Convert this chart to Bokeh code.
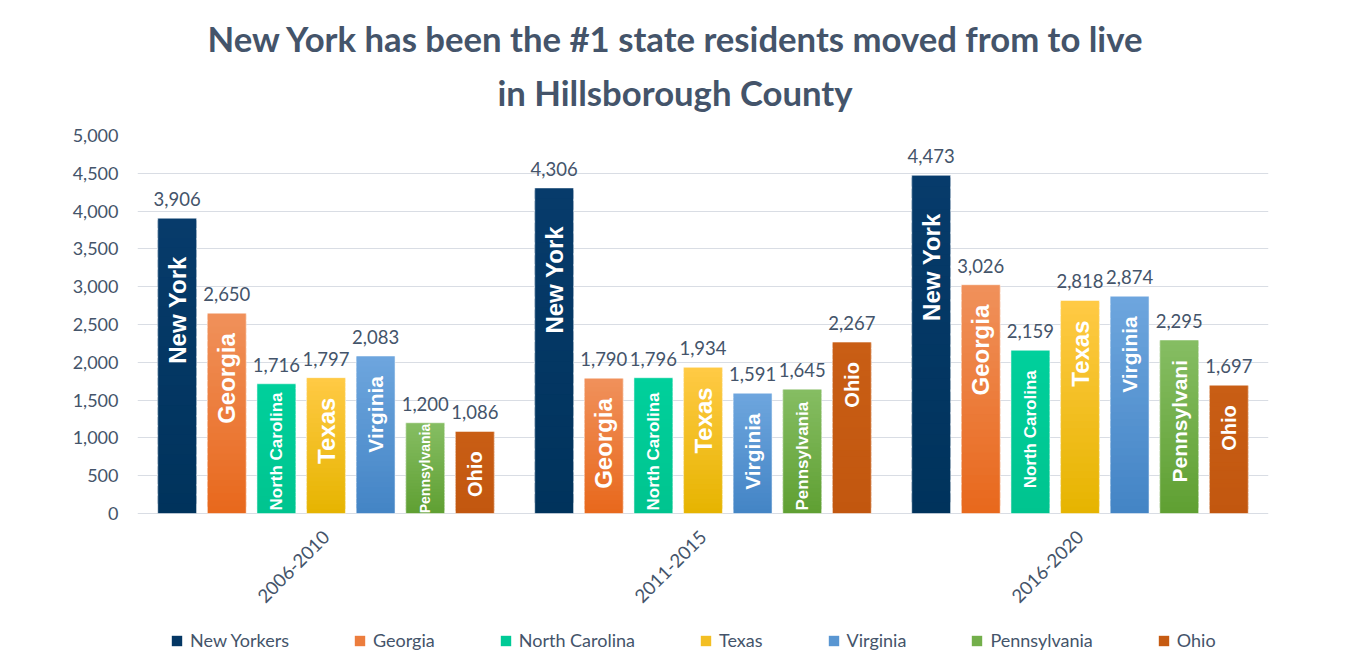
from math import pi
from bokeh.plotting import figure
from bokeh.models import (ColumnDataSource, FactorRange, Range1d, Legend, LegendItem,
                          FixedTicker, NumeralTickFormatter, Title)
from bokeh.core.properties import value
from bokeh.transform import dodge
from bokeh.embed import file_html
from bokeh.resources import INLINE

# ---------------- data ----------------
periods = ["2006-2010", "2011-2015", "2016-2020"]
states = ["New Yorkers", "Georgia", "North Carolina", "Texas", "Virginia", "Pennsylvania", "Ohio"]
new_york = [3906, 4306, 4473]
georgia = [2650, 1790, 3026]
north_carolina = [1716, 1796, 2159]
texas = [1797, 1934, 2818]
virginia = [2083, 1591, 2874]
pennsylvania = [1200, 1645, 2295]
ohio = [1086, 2267, 1697]
inner_labels = {
    "New Yorkers": ["New York", "New York", "New York"],
    "Georgia": ["Georgia", "Georgia", "Georgia"],
    "North Carolina": ["North Carolina", "North Carolina", "North Carolina"],
    "Texas": ["Texas", "Texas", "Texas"],
    "Virginia": ["Virginia", "Virginia", "Virginia"],
    "Pennsylvania": ["Pennsylvania", "Pennsylvania", "Pennsylvani"],
    "Ohio": ["Ohio", "Ohio", "Ohio"],
}
series = [new_york, georgia, north_carolina, texas, virginia, pennsylvania, ohio]
y_ticks = [0, 500, 1000, 1500, 2000, 2500, 3000, 3500, 4000, 4500, 5000]
title_line1 = "New York has been the #1 state residents moved from to live"
title_line2 = "in Hillsborough County"

# ---------------- style ----------------
grad = {  # (top colour, bottom colour)
    "New Yorkers": ("#073B6B", "#00335C"),
    "Georgia": ("#F0915B", "#E8681C"),
    "North Carolina": ("#00D09C", "#00C48F"),
    "Texas": ("#FFCA45", "#E6B400"),
    "Virginia": ("#6EA6DE", "#4384C5"),
    "Pennsylvania": ("#86BD63", "#5FA032"),
    "Ohio": ("#C95E15", "#C2570F"),
}
label_fs = {
    "New Yorkers": [24, 24, 24], "Georgia": [24, 24, 24], "North Carolina": [17, 17, 17],
    "Texas": [24, 24, 24], "Virginia": [21, 21, 21], "Pennsylvania": [14, 17, 21],
    "Ohio": [20, 20, 20],
}
label_off = {"New Yorkers": 38}
TXT = "#44546A"
FONT = "Lato"
FRAME_W = 1131
BAR_H = 378          # pixels from 0 to 5000
EXTRA_H = 147        # room under the zero line for period labels and legend
YMAX = 5000
ppu = BAR_H / YMAX
YMIN = -EXTRA_H / ppu

arial_bold = {" ": 278, "C": 722, "G": 778, "N": 722, "O": 778, "P": 667, "T": 611, "V": 667,
              "Y": 667, "a": 556, "e": 556, "g": 611, "h": 611, "i": 278, "k": 556, "l": 278,
              "n": 611, "o": 611, "r": 389, "s": 556, "t": 333, "v": 556, "w": 778, "x": 556,
              "y": 556}


def text_len(s, fs):
    return sum(arial_bold.get(c, 556) for c in s) * fs / 1000.0


def hex2rgb(h):
    return tuple(int(h[i:i + 2], 16) for i in (1, 3, 5))


def mix(c1, c2, t):
    a, b = hex2rgb(c1), hex2rgb(c2)
    return "#%02x%02x%02x" % tuple(round(a[i] + (b[i] - a[i]) * t) for i in range(3))


p = figure(x_range=FactorRange(factors=periods, range_padding=0),
           y_range=Range1d(YMIN, YMAX),
           frame_width=FRAME_W, frame_height=BAR_H + EXTRA_H,
           min_border_left=137, min_border_right=75, min_border_top=135, min_border_bottom=2,
           output_backend="svg", toolbar_location=None)

n = len(states)
step = 0.1316
bw = 0.103
NSTRIP = 30
legend_items = []
for i, (name, vals) in enumerate(zip(states, series)):
    off = (i - (n - 1) / 2) * step
    top_c, bot_c = grad[name]
    xs, bots, tops, cols = [], [], [], []
    for per, v in zip(periods, vals):
        for k in range(NSTRIP):
            xs.append(per)
            bots.append(v * k / NSTRIP)
            tops.append(min(v, v * (k + 1.8) / NSTRIP))
            cols.append(mix(bot_c, top_c, (k + 0.5) / NSTRIP))
    src = ColumnDataSource(dict(x=xs, bottom=bots, top=tops, color=cols))
    r = p.vbar(x=dodge("x", off, range=p.x_range), bottom="bottom", top="top", width=bw,
               fill_color="color", line_color=None, source=src)
    legend_items.append(LegendItem(label=name, renderers=[r], index=NSTRIP // 2))
    osrc = ColumnDataSource(dict(x=periods, top=vals))
    p.vbar(x=dodge("x", off, range=p.x_range), top="top", width=bw, fill_alpha=0,
           line_color="white", line_alpha=0.5, line_width=1, source=osrc)

    # value labels above bars
    vsrc = ColumnDataSource(dict(x=periods, y=vals, t=[f"{v:,}" for v in vals]))
    p.text(x=dodge("x", off, range=p.x_range), y="y", text="t", source=vsrc,
           text_align="center", text_baseline="alphabetic", y_offset=-19,
           text_font=value(FONT), text_font_size="18.5px", text_color=TXT)

    # rotated names inside bars
    ys, yoffs, texts, sizes = [], [], [], []
    for j, v in enumerate(vals):
        s = inner_labels[name][j]
        fs = label_fs[name][j]
        L = text_len(s, fs)
        bar = v * ppu
        o = label_off.get(name, 20)
        top_px = bar - o
        if top_px - L < 3:
            top_px = min(L + 3, bar - 1)
        ys.append(0)
        yoffs.append(-top_px)
        texts.append(s)
        sizes.append(f"{fs}px")
    isrc = ColumnDataSource(dict(x=periods, y=ys, yo=yoffs, t=texts, fs=sizes))
    p.text(x=dodge("x", off, range=p.x_range), y="y", text="t", y_offset="yo", source=isrc,
           angle=pi / 2, text_align="right", text_baseline="middle",
           text_font=value("Liberation Sans"), text_font_style="bold", text_font_size="fs",
           text_color="white")

# category (period) labels, rotated, under the zero line
psrc = ColumnDataSource(dict(x=periods, y=[0] * len(periods)))
p.text(x="x", y="y", text="x", source=psrc, angle=pi / 4, y_offset=20,
       text_align="right", text_baseline="middle",
       text_font=value(FONT), text_font_size="18.5px", text_color=TXT)

# titles (added bottom line first: closest to the frame)
t2 = Title(text=title_line2, align="left", offset=360, text_font=FONT,
           text_font_style="bold", text_font_size="34.7px", text_color=TXT, standoff=46)
t1 = Title(text=title_line1, align="left", offset=70, text_font=FONT,
           text_font_style="bold", text_font_size="34.7px", text_color=TXT, standoff=-25)
p.add_layout(t2, "above")
p.add_layout(t1, "above")

# axes
p.yaxis.ticker = FixedTicker(ticks=y_ticks)
p.yaxis.formatter = NumeralTickFormatter(format="0,0")
p.yaxis.axis_line_color = None
p.yaxis.major_tick_line_color = None
p.yaxis.major_tick_out = 0
p.yaxis.minor_tick_line_color = None
p.yaxis.major_label_standoff = 19
p.yaxis.major_label_text_font = FONT
p.yaxis.major_label_text_font_size = "18px"
p.yaxis.major_label_text_color = TXT
p.xaxis.visible = False

p.xgrid.grid_line_color = None
p.ygrid.grid_line_color = "#D9DDE4"
p.ygrid.grid_line_width = 1
p.outline_line_color = None

legend = Legend(items=legend_items, orientation="horizontal", location=(33, 9),
                spacing=64, label_standoff=7, glyph_width=13, glyph_height=13,
                padding=0, margin=0, border_line_color=None, background_fill_alpha=0,
                label_text_font=FONT, label_text_font_size="18px", label_text_color=TXT)
p.add_layout(legend, "center")

open("out.html", "w").write(file_html(p, INLINE))
